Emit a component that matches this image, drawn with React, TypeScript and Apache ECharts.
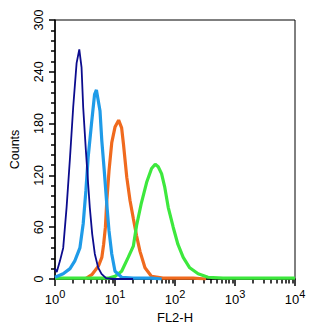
import React, { useEffect, useRef } from "react";
import * as echarts from "echarts";

// FL2-H fluorescence (linear units) and event counts
const navyX = [1, 1.07, 1.21, 1.37, 1.56, 1.78, 2.01, 2.29, 2.54, 2.77, 2.95, 3.27, 3.57, 3.8, 4.17, 4.61, 5.25, 5.96, 7.08, 10, 20];
const navyY = [12, 8, 21, 36, 83, 141, 199, 250, 266, 245, 199, 149, 110, 83, 52, 29, 13, 6, 1, 0, 0];

const skyX = [1, 1.37, 1.78, 2.14, 2.6, 2.95, 3.27, 3.57, 4.06, 4.57, 4.9, 5.62, 6.03, 6.61, 7.29, 7.94, 8.83, 10, 12.9, 20, 40, 60];
const skyY = [2, 6, 12, 21, 36, 64, 102, 141, 180, 214, 219, 195, 160, 126, 87, 56, 29, 9, 2, 1, 1, 0];

const orangeX = [3.16, 4.11, 5.31, 6.03, 6.46, 6.92, 7.29, 7.94, 8.83, 10, 11.5, 12.9, 13.8, 15.7, 17.8, 20.2, 22.9, 26.1, 31.6, 40.7, 63, 100, 200, 330];
const orangeY = [0, 5, 15, 25, 40, 60, 90, 125, 158, 176, 184, 175, 157, 118, 91, 70, 50, 32, 13, 3, 1, 1, 1, 0];

const greenX = [1, 5, 7.9, 10, 12.9, 16.6, 20.2, 22.9, 27.5, 33.7, 40.7, 46.8, 52.5, 59.7, 67.6, 77.1, 93.3, 112, 137, 176, 243, 355, 631, 1600, 10000];
const greenY = [1, 1, 1, 3, 9, 25, 38, 62, 88, 112, 128, 133, 130, 122, 106, 83, 60, 40, 25, 13, 6, 2, 1, 1, 1];

const xMinorTicks = [
  2, 3, 4, 5, 6, 7, 8, 9,
  20, 30, 40, 50, 60, 70, 80, 90,
  200, 300, 400, 500, 600, 700, 800, 900,
  2000, 3000, 4000, 5000, 6000, 7000, 8000, 9000,
];

const FONT = "'Liberation Sans', Arial, Helvetica, sans-serif";

function pairs(xs: number[], ys: number[]) {
  return xs.map((x, i) => [x, ys[i]]);
}

export default function App() {
  const ref = useRef<HTMLDivElement>(null);
  useEffect(() => {
    if (!ref.current) return;
    const chart = echarts.init(ref.current, undefined, { renderer: "svg" });
    const line = (data: number[][], color: string, width: number) => ({
      type: "line",
      data,
      showSymbol: false,
      symbol: "none",
      lineStyle: { color, width },
      itemStyle: { color },
      z: 3,
    });
    chart.setOption({
      animation: false,
      backgroundColor: "#fff",
      grid: {
        left: 52,
        right: 21,
        top: 20,
        bottom: 55,
        show: true,
        borderColor: "#000",
        borderWidth: 1,
        backgroundColor: "transparent",
      },
      xAxis: [
        {
          type: "log",
          logBase: 10,
          min: 1,
          max: 10000,
          name: "FL2-H",
          nameLocation: "middle",
          nameGap: 27,
          nameTextStyle: { fontFamily: FONT, fontSize: 13, color: "#000" },
          axisLine: { show: true, lineStyle: { color: "#000", width: 1.5 } },
          axisTick: { show: true, inside: false, length: 7, lineStyle: { color: "#000", width: 1.5 } },
          splitLine: { show: false },
          minorTick: { show: false },
          axisLabel: {
            margin: 9,
            formatter: (v: number) => {
              const e = Math.round(Math.log10(v));
              return `{b|10}{s|${e}}`;
            },
            rich: {
              b: { fontFamily: FONT, fontSize: 13, color: "#000", verticalAlign: "bottom", lineHeight: 18 },
              s: { fontFamily: FONT, fontSize: 11, color: "#000", verticalAlign: "top", lineHeight: 18 },
            },
          },
        },
        {
          type: "log",
          logBase: 10,
          min: 1,
          max: 10000,
          position: "bottom",
          axisLine: { show: false },
          axisLabel: { show: false },
          splitLine: { show: false },
          axisTick: {
            show: true,
            inside: false,
            length: 4.5,
            customValues: xMinorTicks,
            lineStyle: { color: "#000", width: 1.5 },
          },
        },
      ],
      yAxis: {
        type: "value",
        min: 0,
        max: 300,
        interval: 60,
        name: "Counts",
        nameLocation: "middle",
        nameRotate: 90,
        nameGap: 34,
        nameTextStyle: { fontFamily: FONT, fontSize: 12.5, color: "#000" },
        axisLine: { show: true, lineStyle: { color: "#000", width: 1.5 } },
        axisTick: { show: true, inside: false, length: 6, lineStyle: { color: "#000", width: 1.5 } },
        minorTick: { show: true, splitNumber: 5, length: 4, lineStyle: { color: "#000", width: 1.5 } },
        splitLine: { show: false },
        minorSplitLine: { show: false },
        axisLabel: {
          rotate: 90,
          margin: 10,
          fontFamily: FONT,
          fontSize: 12.5,
          color: "#000",
        },
      },
      series: [
        line(pairs(orangeX, orangeY), "#f06a1e", 3.2),
        line(pairs(greenX, greenY), "#3de83d", 3.2),
        line(pairs(skyX, skyY), "#1f9be8", 3.2),
        line(pairs(navyX, navyY), "#0c0c8e", 1.8),
      ],
    });
    return () => chart.dispose();
  }, []);
  return (
    <div
      ref={ref}
      style={{ position: "absolute", left: 0, top: 0, width: 316, height: 334, background: "#fff" }}
    />
  );
}
